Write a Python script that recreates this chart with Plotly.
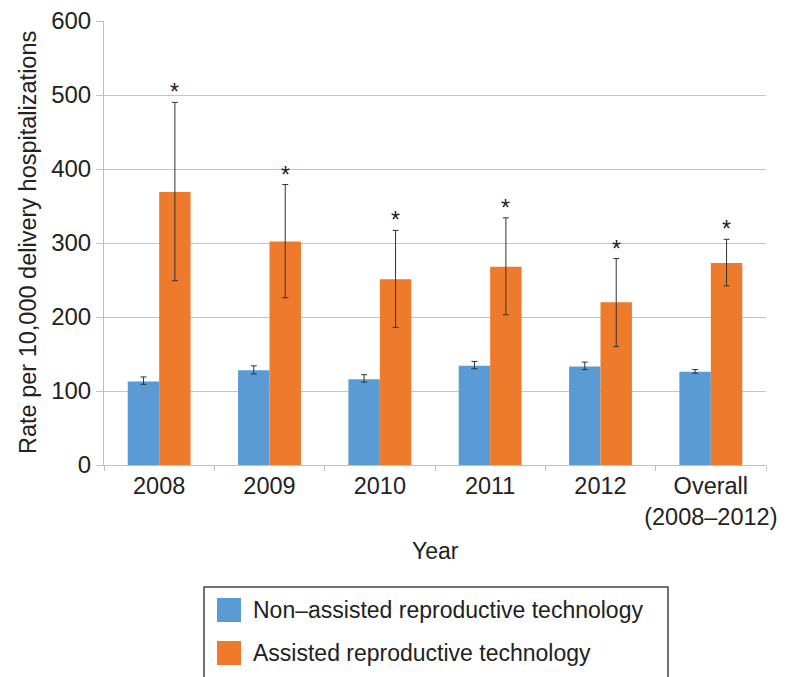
import plotly.graph_objects as go

# Categories and rates per 10,000 delivery hospitalizations
categories = ["2008", "2009", "2010", "2011", "2012", "Overall<br>(2008–2012)"]

non_art_rate = [113, 128, 116, 134, 133, 126]
non_art_upper = [119, 134, 122, 140, 139, 129]
non_art_lower = [109, 123, 112, 130, 129, 124]

art_rate = [369, 302, 251, 268, 220, 273]
art_upper = [490, 379, 317, 334, 279, 305]
art_lower = [249, 226, 186, 203, 160, 242]

significance = ["*", "*", "*", "*", "*", "*"]

series_names = ["Non–assisted reproductive technology",
                "Assisted reproductive technology"]

BLUE = "#5B9BD5"
ORANGE = "#EE7A2C"
FONT = "Liberation Sans, Arial, Helvetica, sans-serif"
TEXT = "#222222"

W, H = 787, 677
MARGIN = dict(l=104, r=21, t=21, b=212)
BARGAP = 0.43
PLOT_W = W - MARGIN["l"] - MARGIN["r"]
PLOT_H = H - MARGIN["t"] - MARGIN["b"]


def err_up(rate, upper):
    return [u - r for r, u in zip(rate, upper)]


def err_down(rate, lower):
    return [r - l for r, l in zip(rate, lower)]


def px_x(px):
    """Convert a pixel column to paper x."""
    return (px - MARGIN["l"]) / PLOT_W


def px_y(py):
    """Convert a pixel row to paper y."""
    return (H - MARGIN["b"] - py) / PLOT_H


fig = go.Figure()

for name, rate, upper, lower, color in [
    (series_names[0], non_art_rate, non_art_upper, non_art_lower, BLUE),
    (series_names[1], art_rate, art_upper, art_lower, ORANGE),
]:
    fig.add_trace(go.Bar(
        x=categories, y=rate, name=name,
        marker=dict(color=color, line=dict(width=0)),
        error_y=dict(type="data", symmetric=False,
                     array=err_up(rate, upper),
                     arrayminus=err_down(rate, lower),
                     color="#333333", thickness=1, width=3),
        showlegend=False,
    ))

# Significance markers sit above the ART error bars (right bar of each pair);
# on a category axis the annotation x is the category index
bar_px = PLOT_W / len(categories) * (1 - BARGAP) / 2
annotations = [
    dict(x=i, y=u, text=s, xref="x", yref="y", showarrow=False,
         xshift=bar_px / 2, yshift=-5, xanchor="center", yanchor="bottom",
         font=dict(family=FONT, size=23, color=TEXT))
    for i, (u, s) in enumerate(zip(art_upper, significance))
]

annotations += [
    dict(text="Year", xref="paper", yref="paper", x=0.5, y=px_y(551),
         xanchor="center", yanchor="middle", showarrow=False,
         font=dict(family=FONT, size=23, color=TEXT)),
    dict(text="Rate per 10,000 delivery hospitalizations",
         xref="paper", yref="paper", x=px_x(28), y=0.5,
         xanchor="center", yanchor="middle", textangle=-90, showarrow=False,
         font=dict(family=FONT, size=23.5, color=TEXT)),
]

# Boxed legend below the chart: outline, colour swatches and labels
shapes = [
    dict(type="rect", xref="paper", yref="paper",
         x0=px_x(204), x1=px_x(668), y0=px_y(587), y1=px_y(700),
         line=dict(color="#444444", width=1.5), fillcolor="rgba(0,0,0,0)"),
]
for color, name, cy in zip([BLUE, ORANGE], series_names, [610, 653]):
    shapes.append(dict(type="rect", xref="paper", yref="paper",
                       x0=px_x(217), x1=px_x(241), y0=px_y(cy + 12), y1=px_y(cy - 12),
                       line=dict(width=0), fillcolor=color))
    annotations.append(dict(text=name, xref="paper", yref="paper",
                            x=px_x(251), y=px_y(cy), xanchor="left", yanchor="middle",
                            showarrow=False,
                            font=dict(family=FONT, size=23, color=TEXT)))

fig.update_layout(
    width=W, height=H,
    margin=dict(MARGIN, autoexpand=False),
    paper_bgcolor="white", plot_bgcolor="white",
    barmode="group", bargap=BARGAP, bargroupgap=0,
    font=dict(family=FONT, size=23, color=TEXT),
    showlegend=False,
    xaxis=dict(
        type="category", tickangle=0, automargin=False,
        categoryorder="array", categoryarray=categories,
        range=[-0.5, len(categories) - 0.5],
        showgrid=False, showline=True, linecolor="#BFBFBF", linewidth=1,
        ticks="outside", tickson="boundaries", ticklen=5, tickcolor="#BFBFBF",
        tickfont=dict(family=FONT, size=23.5, color=TEXT),
    ),
    yaxis=dict(
        range=[0, 600], dtick=100, automargin=False,
        showgrid=True, gridcolor="#C4C4C4", gridwidth=1,
        showline=True, linecolor="#BFBFBF", linewidth=1,
        ticks="outside", ticklen=7, tickcolor="#BFBFBF",
        zeroline=False,
        tickfont=dict(family=FONT, size=24, color=TEXT),
    ),
    shapes=shapes,
    annotations=annotations,
)

fig.write_html("out.html")
